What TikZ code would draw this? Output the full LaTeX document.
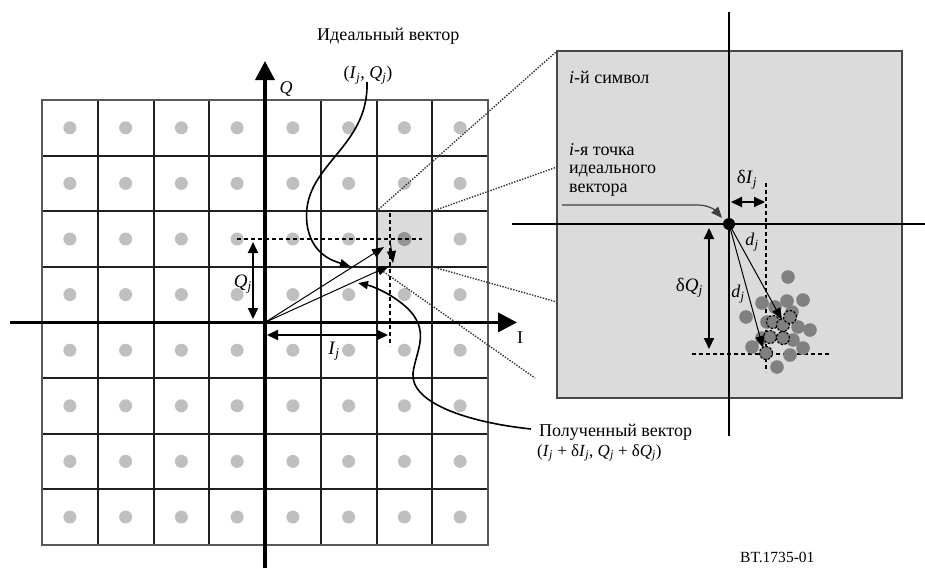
\documentclass[tikz,border=0pt]{standalone}
\usepackage{fontspec}
\setmainfont{Liberation Serif}
\usetikzlibrary{arrows.meta}
\newcommand\sbj{\textsubscript{\textit{j}}}
\newcommand\vI{\textit{I}}
\newcommand\vQ{\textit{Q}}
\begin{document}
\begin{tikzpicture}[x=1pt,y=-1pt,
  lbl/.style={inner sep=0pt, font=\fontsize{18}{20}\selectfont},
  smalllbl/.style={inner sep=0pt, font=\fontsize{18}{18.5}\selectfont, align=left},
  gridline/.style={black!88, line width=2pt},
  axis/.style={line width=3.6pt, -{Triangle[width=19pt,length=19pt]}},
  dimarrow/.style={line width=2pt, {Triangle[width=10pt,length=11pt]}-{Triangle[width=10pt,length=11pt]}},
  vec/.style={line width=1pt, -{Triangle[width=9pt,length=12pt]}},
  dashln/.style={line width=1.5pt, dash pattern=on 4pt off 3pt},
  dotln/.style={line width=1.4pt, dash pattern=on 1.4pt off 1.4pt, black!80},
  curve/.style={line width=1.6pt, -{Triangle[width=8pt,length=10pt]}},
  scat/.style={fill=black!50},
  scatmark/.style={draw=black, line width=1.2pt, dash pattern=on 2.5pt off 1.5pt, fill=black!50},
  ]
\useasboundingbox (0,0) rectangle (925,568);
% ---------------- left constellation ----------------
\fill[black!14] (376.5,211.2) rectangle (432.25,266.8);
\foreach \i in {1,...,7} {
  \draw[gridline] ({42+\i*55.75},100) -- ({42+\i*55.75},545);
  \draw[gridline] (42,{100+\i*55.6}) -- (488,{100+\i*55.6});
}
\draw[black!65, line width=1.5pt] (42,100) rectangle (488,545);
\foreach \i in {0,...,7} \foreach \j in {0,...,7}
  \fill[black!25] ({42+(\i+0.5)*55.75},{100+(\j+0.5)*55.6}) circle (6.5pt);
\fill[black!42] (404.4,239) circle (7pt);
% dotted zoom lines
\coordinate (cTL) at (376.5,211.2);
\coordinate (cTR) at (432.25,211.2);
\coordinate (cBR) at (432.25,266.8);
\coordinate (cBL) at (376.5,266.8);
\coordinate (rTL) at (557,51);
\coordinate (rM1) at (557,167);
\coordinate (rM2) at (557,302);
\coordinate (rB) at (535,378);
\draw[dotln] (cTL) -- (rTL);
\draw[dotln] (cTR) -- (rM1);
\draw[dotln] (cBR) -- (rM2);
\draw[dotln] (cBL) -- (rB);
% axes
\coordinate (O) at (265,322.4);
\coordinate (Qb) at (265,568);
\coordinate (Qt) at (265,61);
\coordinate (Il) at (10,322.4);
\coordinate (Ir) at (517,322.4);
\draw[axis] (Qb) -- (Qt);
\draw[axis] (Il) -- (Ir);
\node[lbl, font=\fontsize{18}{20}\selectfont\itshape] (Qlab) at (286,89) {Q};
\node[lbl] (Ilab) at (520,338) {I};
% dashed projections
\coordinate (h1) at (237,239);
\coordinate (h2) at (422,239);
\coordinate (v1) at (390,213);
\coordinate (v2) at (390,346);
\draw[dashln] (h1) -- (h2);
\draw[dashln] (v1) -- (v2);
% Qj and Ij dimensions
\coordinate (qa) at (253,242);
\coordinate (qb) at (253,319);
\draw[dimarrow] (qa) -- (qb);
\node[lbl, anchor=east, font=\fontsize{19}{21}\selectfont] (Qj) at (252,284) {\vQ\sbj};
\coordinate (ia) at (267,335);
\coordinate (ib) at (388,335);
\draw[dimarrow] (ia) -- (ib);
\node[lbl, font=\fontsize{19}{21}\selectfont] (Ij) at (334,351) {\vI\sbj};
% vectors
\coordinate (e1) at (384,247);
\coordinate (e2) at (389,266);
\coordinate (s1) at (390,240);
\coordinate (s2) at (393,263);
\draw[vec] (O) -- (e1);
\draw[vec] (O) -- (e2);
\draw[vec] (s1) -- (s2);
% ideal vector label and curve
\node[lbl, anchor=west] (ideal) at (317,36) {Идеальный вектор};
\node[lbl] (idealc) at (368,75) {(\vI\sbj, \vQ\sbj)};
\coordinate (c1s) at (367,82);
\coordinate (c1e) at (350,266);
\draw[curve] (c1s) .. controls (369,150) and (300,165) .. (307,224)
  .. controls (311,254) and (333,261) .. (c1e);
% received vector label and curve
\node[lbl, anchor=west] (recv) at (539,432) {Полученный вектор};
\node[lbl, anchor=west, font=\fontsize{17}{19}\selectfont] (recvc) at (537,453)
  {(\vI\sbj{} + δ\vI\sbj, \vQ\sbj{} + δ\vQ\sbj)};
\coordinate (c2s) at (531,429);
\coordinate (c2e) at (358,283);
\draw[curve] (c2s) .. controls (465,422) and (410,402) .. (413,373)
  .. controls (416,350) and (432,330) .. (405,306)
  .. controls (390,293) and (372,286) .. (c2e);
% ---------------- right zoomed symbol ----------------
\coordinate (R1) at (557,51);
\coordinate (R2) at (902,398);
\fill[black!14] (R1) rectangle (R2);
\draw[black!72, line width=1.5pt] (R1) rectangle (R2);
\coordinate (vt) at (729,12);
\coordinate (vb) at (729,436);
\coordinate (hl) at (512,224);
\coordinate (hr) at (925,224);
\draw[line width=2pt] (vt) -- (vb);
\draw[line width=2pt] (hl) -- (hr);
\coordinate (dv1) at (766,183);
\coordinate (dv2) at (766,372);
\coordinate (dh1) at (692,354);
\coordinate (dh2) at (830,354);
\draw[dashln] (dv1) -- (dv2);
\draw[dashln] (dh1) -- (dh2);
% scatter
\foreach \p in {(788,277),(762,303),(787,301),(803,300),(746,317),(775,307),(792,312),
  (767,322),(798,327),(810,330),(793,340),(762,338),(752,347),(803,348),(790,355),(777,367)}
  \fill[scat] \p circle (6.8pt);
\foreach \p in {(773,322),(783,325),(770,337),(783,338),(790,317),(766,353)}
  \draw[scatmark] \p circle (6.5pt);
% ideal point
\coordinate (P) at (729,224);
\fill (P) circle (6pt);
% d_j vectors
\coordinate (d1) at (782,320);
\coordinate (d2) at (763,348);
\draw[vec] (P) -- (d1);
\draw[vec] (P) -- (d2);
\node[lbl] (dj1) at (752,242) {\textit{d}\sbj};
\node[lbl] (dj2) at (738,294) {\textit{d}\sbj};
% delta dimensions
\coordinate (di1) at (731,202);
\coordinate (di2) at (765,202);
\draw[dimarrow] (di1) -- (di2);
\node[lbl, font=\fontsize{19}{21}\selectfont] (dIj) at (747,180) {δ\vI\sbj};
\coordinate (dq1) at (709,228);
\coordinate (dq2) at (709,349);
\draw[dimarrow] (dq1) -- (dq2);
\node[lbl, anchor=east, font=\fontsize{19}{21}\selectfont] (dQj) at (703,288) {δ\vQ\sbj};
% texts in the box
\node[smalllbl, anchor=west] (sym) at (569,77) {\textit{i}-й символ};
\node[smalllbl, anchor=north west] (ipt) at (569,143)
  {\textit{i}-я точка\\идеального\\вектора};
\coordinate (l1) at (562,205);
\coordinate (l2) at (698,205);
\coordinate (l3) at (722,218);
\draw[black!75, line width=1.2pt, -{Triangle[width=9pt,length=11pt]}] (l1) -- (l2)
  .. controls (708,205) and (715,210) .. (l3);
% figure code
\node[inner sep=0pt, anchor=west, font=\fontsize{15.5}{17}\selectfont] (code) at (740,557) {BT.1735-01};
\end{tikzpicture}
\end{document}
